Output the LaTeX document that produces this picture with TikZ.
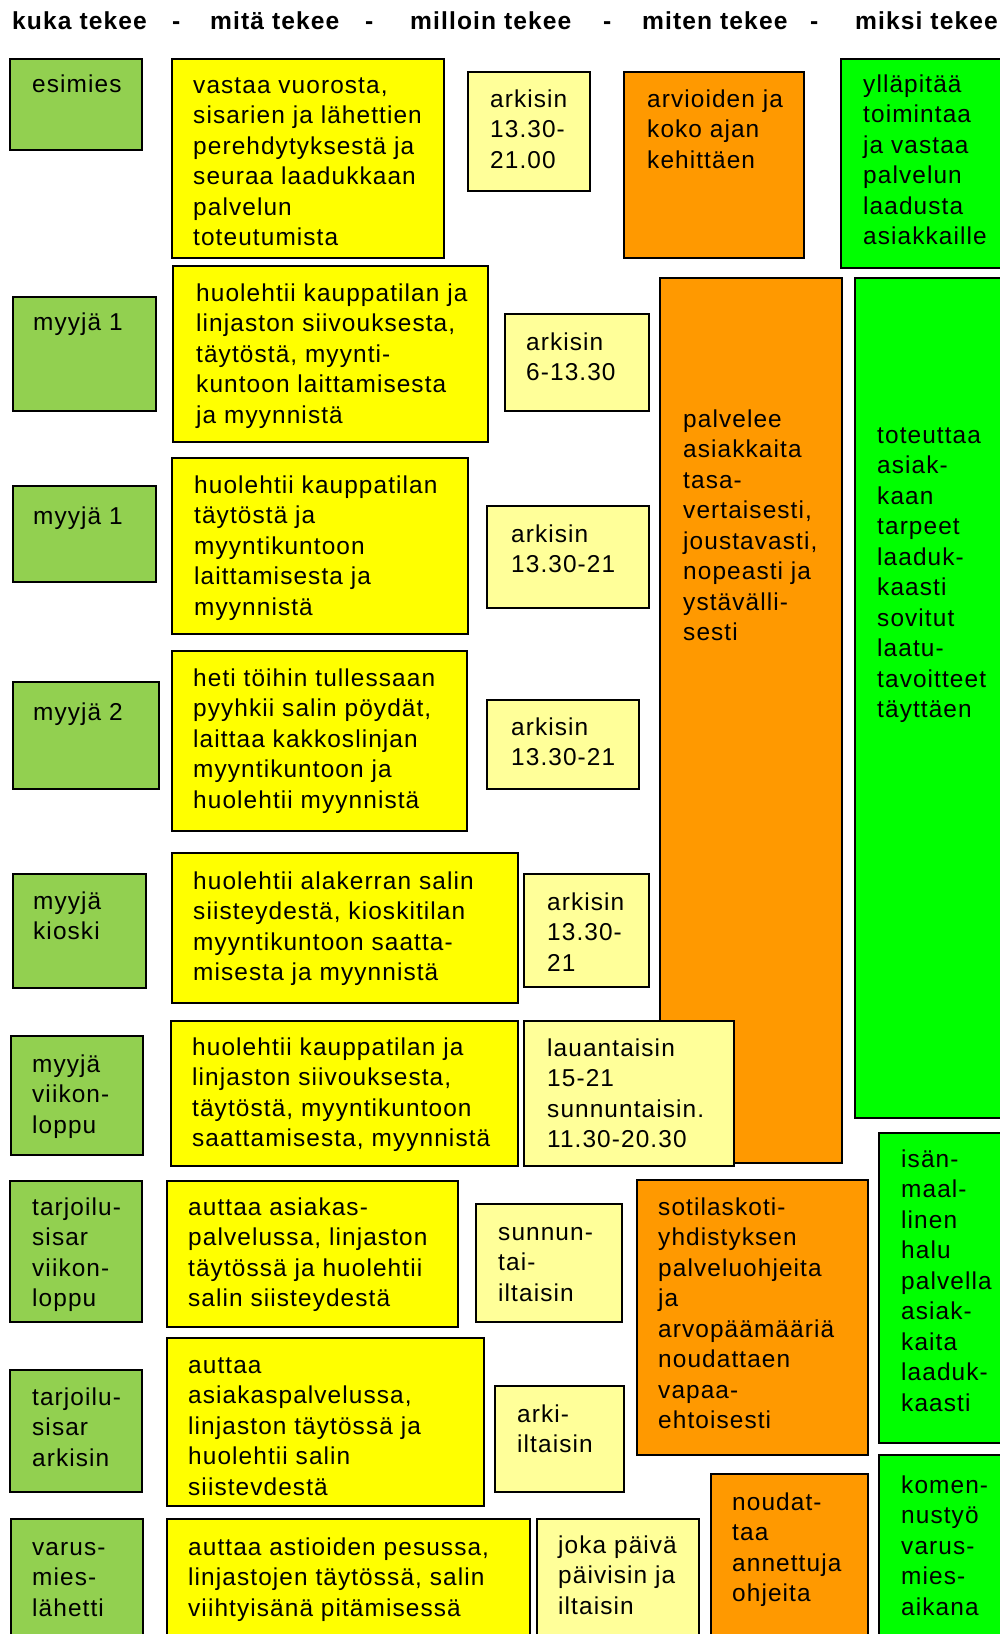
\documentclass[tikz,border=0pt]{standalone}
\usepackage{fontspec}
\setmainfont{Liberation Sans}[LetterSpace=4.5]
\usetikzlibrary{fit}

\definecolor{whoGreen}{HTML}{92D050}
\definecolor{whatYellow}{HTML}{FFFF00}
\definecolor{whenYellow}{HTML}{FFFF99}
\definecolor{howOrange}{HTML}{FF9900}
\definecolor{whyGreen}{HTML}{00FF00}

% left-aligned block of lines whose baseline is the first line
\newcommand\stack[1]{\begin{tabular}[t]{@{}l@{}}#1\end{tabular}}
% #1 style, #2 name, #3-#6 corners, #7 first baseline point, #8 lines
\newcommand\cell[8]{%
  \node[cellbox,#1,fit={(#3,#4) (#5,#6)}] (#2) {};
  \node[celltext] (#2-txt) at #7 {\stack{#8}};}

\begin{document}
\begin{tikzpicture}[x=1pt,y=-1pt,
  cellbox/.style={draw=black, line width=1.4pt, inner sep=0pt},
  who/.style={fill=whoGreen},
  what/.style={fill=whatYellow},
  when/.style={fill=whenYellow},
  how/.style={fill=howOrange},
  why/.style={fill=whyGreen},
  celltext/.style={anchor=base west, inner sep=0pt, font=\fontsize{24.4}{30.5}\selectfont},
  headtext/.style={anchor=base west, inner sep=0pt, font=\fontsize{24.6}{28}\selectfont\bfseries}]

\useasboundingbox (0,0) rectangle (1000,1634);
\clip (0,0) rectangle (1000,1634);
\fill[white] (0,0) rectangle (1000,1634);

% column headings
\node[headtext] (h1) at (12,29) {kuka tekee};
\node[headtext] (d1) at (172,29) {-};
\node[headtext] (h2) at (210,29) {mitä tekee};
\node[headtext] (d2) at (365,29) {-};
\node[headtext] (h3) at (410,29) {milloin tekee};
\node[headtext] (d3) at (603,29) {-};
\node[headtext] (h4) at (642,29) {miten tekee};
\node[headtext] (d4) at (810,29) {-};
\node[headtext] (h5) at (855,29) {miksi tekee};

% esimies
\cell{who}{g1}{10}{59}{142}{150}{(32,92)}{esimies}
\cell{what}{y1}{172}{59}{444}{258}{(193,93)}{vastaa vuorosta,\\sisarien ja lähettien\\perehdytyksestä ja\\seuraa laadukkaan\\palvelun\\toteutumista}
\cell{when}{l1}{468}{72}{590}{191}{(490,107)}{arkisin\\13.30-\\21.00}
\cell{how}{o1}{624}{72}{804}{258}{(647,107)}{arvioiden ja\\koko ajan\\kehittäen}
\cell{why}{w1}{841}{59}{1010}{268}{(863,92)}{ylläpitää\\toimintaa\\ja vastaa\\palvelun\\laadusta\\asiakkaille}

% shared columns for the sales staff
\cell{how}{o2}{660}{278}{842}{1163}{(683,427)}{palvelee\\asiakkaita\\tasa-\\vertaisesti,\\joustavasti,\\nopeasti ja\\ystävälli-\\sesti}
\cell{why}{w2}{855}{278}{1010}{1118}{(877,443)}{toteuttaa\\asiak-\\kaan\\tarpeet\\laaduk-\\kaasti\\sovitut\\laatu-\\tavoitteet\\täyttäen}

% myyjä 1, morning
\cell{who}{g2}{13}{297}{156}{411}{(33,330)}{myyjä 1}
\cell{what}{y2}{173}{266}{488}{442}{(196,301)}{huolehtii kauppatilan ja\\linjaston siivouksesta,\\täytöstä, myynti-\\kuntoon laittamisesta\\ja myynnistä}
\cell{when}{l2}{505}{314}{649}{411}{(526,350)}{arkisin\\6-13.30}

% myyjä 1, afternoon
\cell{who}{g3}{13}{486}{156}{582}{(33,524)}{myyjä 1}
\cell{what}{y3}{172}{458}{468}{634}{(194,493)}{huolehtii kauppatilan\\täytöstä ja\\myyntikuntoon\\laittamisesta ja\\myynnistä}
\cell{when}{l3}{487}{506}{649}{608}{(511,542)}{arkisin\\13.30-21}

% myyjä 2
\cell{who}{g4}{13}{682}{159}{789}{(33,720)}{myyjä 2}
\cell{what}{y4}{172}{651}{467}{831}{(193,686)}{heti töihin tullessaan\\pyyhkii salin pöydät,\\laittaa kakkoslinjan\\myyntikuntoon ja\\huolehtii myynnistä}
\cell{when}{l4}{487}{700}{639}{789}{(511,735)}{arkisin\\13.30-21}

% myyjä kioski
\cell{who}{g5}{13}{874}{146}{988}{(33,909)}{myyjä\\kioski}
\cell{what}{y5}{172}{853}{518}{1003}{(193,889)}{huolehtii alakerran salin\\siisteydestä, kioskitilan\\myyntikuntoon saatta-\\misesta ja myynnistä}
\cell{when}{l5}{524}{874}{649}{987}{(547,910)}{arkisin\\13.30-\\21}

% myyjä viikonloppu
\cell{who}{g6}{11}{1036}{143}{1155}{(32,1072)}{myyjä\\viikon-\\loppu}
\cell{what}{y6}{171}{1021}{518}{1166}{(192,1055)}{huolehtii kauppatilan ja\\linjaston siivouksesta,\\täytöstä, myyntikuntoon\\saattamisesta, myynnistä}
\cell{when}{l6}{524}{1021}{734}{1166}{(547,1056)}{lauantaisin\\15-21\\sunnuntaisin.\\11.30-20.30}

% tarjoilusisar viikonloppu
\cell{who}{g7}{10}{1181}{142}{1322}{(32,1215)}{tarjoilu-\\sisar\\viikon-\\loppu}
\cell{what}{y7}{167}{1181}{458}{1327}{(188,1215)}{auttaa asiakas-\\palvelussa, linjaston\\täytössä ja huolehtii\\salin siisteydestä}
\cell{when}{l7}{476}{1204}{622}{1322}{(498,1240)}{sunnun-\\tai-\\iltaisin}
\cell{how}{o3}{637}{1180}{868}{1455}{(658,1215)}{sotilaskoti-\\yhdistyksen\\palveluohjeita\\ja\\arvopäämääriä\\noudattaen\\vapaa-\\ehtoisesti}
\cell{why}{w3}{879}{1133}{1010}{1443}{(901,1167)}{isän-\\maal-\\linen\\halu\\palvella\\asiak-\\kaita\\laaduk-\\kaasti}

% tarjoilusisar arkisin
\cell{who}{g8}{10}{1370}{142}{1492}{(32,1405)}{tarjoilu-\\sisar\\arkisin}
\cell{what}{y8}{167}{1338}{484}{1506}{(188,1373)}{auttaa\\asiakaspalvelussa,\\linjaston täytössä ja\\huolehtii salin\\siistevdestä}
\cell{when}{l8}{495}{1386}{624}{1492}{(517,1422)}{arki-\\iltaisin}

% varusmieslähetti
\cell{why}{w4}{879}{1455}{1010}{1645}{(901,1493)}{komen-\\nustyö\\varus-\\mies-\\aikana}
\cell{how}{o4}{711}{1474}{868}{1645}{(732,1510)}{noudat-\\taa\\annettuja\\ohjeita}
\cell{who}{g9}{11}{1519}{143}{1645}{(32,1555)}{varus-\\mies-\\lähetti}
\cell{what}{y9}{167}{1519}{530}{1645}{(188,1555)}{auttaa astioiden pesussa,\\linjastojen täytössä, salin\\viihtyisänä pitämisessä}
\cell{when}{l9}{537}{1519}{699}{1645}{(558,1553)}{joka päivä\\päivisin ja\\iltaisin}
\end{tikzpicture}
\end{document}
